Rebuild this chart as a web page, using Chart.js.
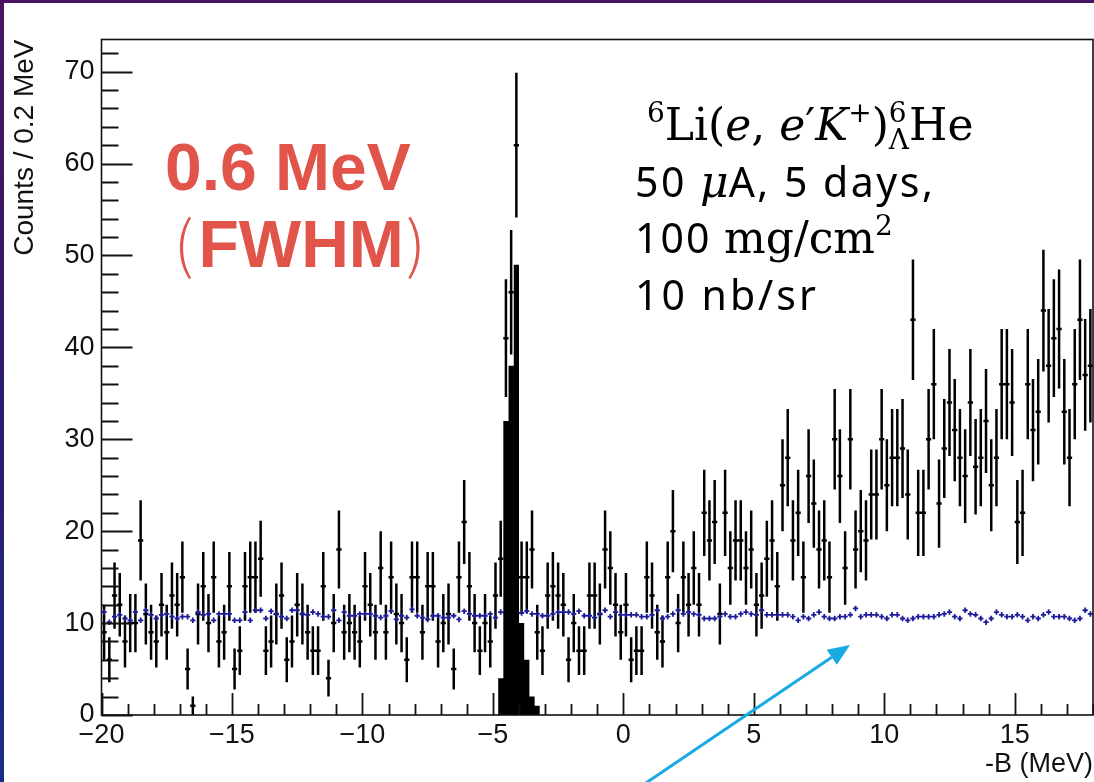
<!DOCTYPE html>
<html>
<head>
<meta charset="utf-8">
<script src="https://cdn.jsdelivr.net/npm/chart.js"></script>
<style>
  html, body { margin: 0; padding: 0; }
  body {
    width: 1094px; height: 782px; overflow: hidden; position: relative;
    background: linear-gradient(180deg, #4a1462 0%, #2c1c6c 55%, #1b2c88 100%);
  }
  #wrap { position: absolute; left: 4px; top: 3px; width: 1090px; height: 779px; background: #fff; }
</style>
</head>
<body>
<div id="wrap"><canvas id="spectrum" width="1090" height="779"></canvas></div>
<script>
// binning of the missing-mass spectrum
const BIN_LO = -20;
const BIN_W = 0.2;

// counts per 0.2 MeV bin, from -20 to 18 MeV
const counts = [
  9, 6, 13, 12, 8, 10, 10, 19, 11, 9, 8, 12, 9, 13, 12, 15, 5, 1, 11, 14,
  10, 15, 8, 9, 14, 5, 7, 14, 15, 15, 17, 7, 8, 11, 13, 6, 8, 12, 11, 9,
  7, 7, 14, 4, 10, 18, 9,
  10, 9, 8, 14, 12, 9, 16, 9, 15, 11, 10, 6, 15, 15, 9, 14, 14, 8, 10, 11,
  5, 15, 21, 14, 10, 7, 10, 8, 13, 17,
  41, 46, 62, 15, 15, 18, 9, 7, 13, 14, 13, 12, 6, 10, 7, 7, 13, 13,
  11, 18, 16, 12, 9, 12, 6, 7, 7, 15, 13, 9, 8, 15, 20, 10, 15, 12, 16, 12,
  22, 19, 21, 11, 22, 16, 19, 19, 16, 18, 12, 13, 17, 19, 14, 25, 28, 19, 22, 15,
  26, 23, 18, 19, 15, 30, 26, 16, 30,
  18, 20, 19, 24, 24, 30, 25, 28, 28, 29, 24, 43, 22, 22, 30, 36, 23, 29, 34, 31,
  28, 26, 34, 27, 28, 32, 25, 28, 36, 36, 34, 21, 22, 36, 31, 33, 44, 38, 41, 42,
  33, 28, 36, 43, 37, 38
];

// accidental background estimate, same binning
const background = [
  11.2, 10.1, 10.7, 10.9, 10.5, 10.3, 11.2, 10.3, 11.4, 10.9, 10.5, 10.9, 11.0, 10.7, 10.5, 10.7,
  10.7, 10.3, 11.2, 10.9, 11.0, 10.3, 11.0, 11.0, 11.0, 10.3, 10.3, 11.2, 10.3, 11.4, 11.4, 10.5,
  11.3, 11.0, 10.7, 10.5, 11.4, 11.4, 11.0, 10.9, 11.2, 11.0, 10.7, 10.7, 11.4, 10.3, 11.2,
  10.8, 10.8, 11.0, 11.0, 11.0, 10.8, 10.6, 10.8, 11.3, 10.4, 10.8, 10.6, 11.5, 10.8, 10.6, 10.4,
  10.8, 10.8, 10.6, 10.6, 10.8, 10.4, 11.3, 11.0, 10.8, 10.8, 10.8, 11.0, 10.6, 11.2, 11.1, 10.9,
  11.0, 11.1, 11.3, 11.0, 11.0, 10.8, 10.8, 11.0, 11.2, 11.2, 11.2, 11.0, 11.3, 10.8, 10.8, 10.6,
  11.0, 11.4, 10.7, 11.2, 10.9, 10.9, 10.9, 10.9, 10.7, 10.7, 10.9, 11.4, 10.5, 10.7, 11.0, 11.4,
  11.0, 11.2, 11.0, 10.9, 10.5, 10.5, 10.5, 10.7, 11.0, 10.7, 10.7, 11.0, 11.2, 11.0, 10.9, 11.4,
  10.9, 10.9, 10.9, 10.9, 10.9, 10.7, 10.3, 10.7, 10.5, 10.9, 11.2, 10.7, 10.5, 10.5, 10.7, 10.7,
  10.9,
  11.6, 10.7, 10.9, 10.9, 10.9, 10.7, 10.5, 10.9, 10.9, 10.5, 10.3, 10.5, 10.7, 10.7, 10.7, 10.7,
  10.9, 11.0, 11.2, 10.7, 10.5, 11.4, 11.0, 10.9, 10.5, 10.1, 10.5, 11.2, 10.9, 10.7, 10.7, 10.9,
  10.7, 10.3, 10.7, 10.5, 10.9, 11.2, 10.7, 10.7, 10.7, 10.5, 10.3, 10.5, 11.4, 11.0
];
const BKG_ERR = 0.3;

// simulated Lambda-hypernucleus ground state peak
const peakEdges = [-4.8, -4.6, -4.4, -4.2, -4.0, -3.8, -3.6, -3.4, -3.2];
const peakCounts = [4, 32, 38, 49, 10, 6, 2, 1];

const xMajor = [-20, -15, -10, -5, 0, 5, 10, 15];
const yMajor = [0, 10, 20, 30, 40, 50, 60, 70];

const centers = counts.map((_, i) => BIN_LO + BIN_W * (i + 0.5));

// error crosses as broken line segments (null breaks the path)
function crosses(values, errOf, halfW) {
  const vert = [], horiz = [];
  values.forEach((v, i) => {
    if (!v) return;
    const x = centers[i], e = errOf(v);
    vert.push({ x, y: v - e }, { x, y: v + e }, { x, y: null });
    horiz.push({ x: x - halfW, y: v }, { x: x + halfW, y: v }, { x: x + halfW, y: null });
  });
  return [vert, horiz];
}

const [dataV, dataH] = crosses(counts, n => Math.sqrt(n), BIN_W / 2);
const [bkgV, bkgH] = crosses(background, () => BKG_ERR, BIN_W / 2);

const peakLine = peakEdges.map((x, i) => ({ x, y: peakCounts[Math.min(i, peakCounts.length - 1)] }));

function segs(data, color, width) {
  return {
    data, borderColor: color, borderWidth: width, pointRadius: 0,
    spanGaps: false, fill: false, tension: 0
  };
}

const HELV = '"Liberation Sans", Arial, Helvetica, sans-serif';
const minus = v => (v < 0 ? '\u2212' + Math.abs(v) : String(v));

// ROOT-like frame with inward major/minor ticks
const rootFrame = {
  id: 'rootFrame',
  afterDraw(chart) {
    const { ctx, chartArea: a, scales: { x, y } } = chart;
    ctx.save();
    ctx.strokeStyle = '#111';
    ctx.lineWidth = 1.6;
    ctx.strokeRect(a.left, a.top, a.right - a.left, a.bottom - a.top);
    ctx.beginPath();
    for (let v = -20; v <= 18; v++) {
      const px = Math.round(x.getPixelForValue(v)) + 0.5;
      const len = xMajor.includes(v) ? 22 : 11;
      ctx.moveTo(px, a.bottom);
      ctx.lineTo(px, a.bottom - len);
    }
    for (let v = 0; v <= 72; v += 2) {
      const py = Math.round(y.getPixelForValue(v)) + 0.5;
      const len = yMajor.includes(v) ? 31 : 17;
      ctx.moveTo(a.left, py);
      ctx.lineTo(a.left + len, py);
    }
    ctx.lineWidth = 1.8;
    ctx.stroke();
    ctx.restore();
  }
};

// write a run of differently styled pieces, return end x
function run(ctx, pieces, x, y) {
  pieces.forEach(p => {
    ctx.font = p.font;
    ctx.letterSpacing = p.ls || '0px';
    if (p.stack) {
      let w = 0;
      p.stack.forEach(s => {
        ctx.fillText(s.t, x, y + s.dy);
        w = Math.max(w, ctx.measureText(s.t).width);
      });
      x += w;
    } else {
      ctx.fillText(p.t, x, y + (p.dy || 0));
      x += ctx.measureText(p.t).width;
    }
  });
  ctx.letterSpacing = '0px';
  return x;
}

const SERIF = '"DejaVu Serif", serif';
const up = `44px ${SERIF}`;
const it = `italic 44px ${SERIF}`;
const sup = `28px ${SERIF}`;
const sans = '41px "Noto Sans", sans-serif';

const annotations = {
  id: 'annotations',
  afterDraw(chart) {
    const ctx = chart.ctx;
    ctx.save();
    ctx.textBaseline = 'alphabetic';
    ctx.textAlign = 'left';

    // energy resolution
    ctx.fillStyle = '#e1544a';
    ctx.font = `bold 66px ${HELV}`;
    ctx.fillText('0.6 MeV', 161, 187);
    run(ctx, [
      { t: '(', font: '300 62px "Noto Sans CJK JP", sans-serif' },
      { t: ' ', font: '18px sans-serif' },
      { t: 'FWHM', font: `bold 66px ${HELV}` },
      { t: ' ', font: '8px sans-serif' },
      { t: ')', font: '300 62px "Noto Sans CJK JP", sans-serif' }
    ], 170, 264);

    // reaction and run conditions
    ctx.fillStyle = '#000';
    run(ctx, [
      { t: '6', font: sup, dy: -18 },
      { t: 'Li(', font: up },
      { t: 'e', font: it },
      { t: ', ', font: up },
      { t: 'e', font: it },
      { t: '\u2032', font: up },
      { t: 'K', font: it },
      { t: '+', font: sup, dy: -18 },
      { t: ')', font: up },
      { font: sup, stack: [{ t: '6', dy: -18 }, { t: '\u039B', dy: 9 }] },
      { t: 'He', font: up }
    ], 643, 137);
    run(ctx, [
      { t: '50 ', font: sans, ls: '2.5px' },
      { t: '\u03BC', font: it },
      { t: 'A, 5 days,', font: sans, ls: '2.5px' }
    ], 631, 194);
    run(ctx, [
      { t: '100 ', font: sans, ls: '2px' },
      { t: 'mg/cm', font: up },
      { t: '2', font: sup, dy: -18 }
    ], 631, 250);
    run(ctx, [{ t: '10 nb/sr', font: sans, ls: '3px' }], 631, 307);

    // arrow pointing at the background level
    const x0 = 636, y0 = 784, x1 = 846, y1 = 642;
    const ang = Math.atan2(y1 - y0, x1 - x0);
    const hl = 22, hw = 9;
    const bx = x1 - hl * Math.cos(ang), by = y1 - hl * Math.sin(ang);
    ctx.strokeStyle = '#19a9e3';
    ctx.fillStyle = '#19a9e3';
    ctx.lineWidth = 3;
    ctx.beginPath();
    ctx.moveTo(x0, y0);
    ctx.lineTo(bx, by);
    ctx.stroke();
    ctx.beginPath();
    ctx.moveTo(x1, y1);
    ctx.lineTo(bx + hw * Math.sin(ang), by - hw * Math.cos(ang));
    ctx.lineTo(bx - hw * Math.sin(ang), by + hw * Math.cos(ang));
    ctx.closePath();
    ctx.fill();
    ctx.restore();
  }
};

Chart.defaults.color = '#111';
Chart.defaults.font.family = HELV;

new Chart(document.getElementById('spectrum'), {
  type: 'line',
  data: {
    datasets: [
      {
        data: peakLine, stepped: true, fill: 'origin',
        backgroundColor: '#000', borderColor: '#000', borderWidth: 0, pointRadius: 0
      },
      segs(bkgV, '#1c1c9a', 1.8),
      segs(bkgH, '#1c1c9a', 1.8),
      segs(dataV, '#000', 2.5),
      segs(dataH, '#000', 2.5)
    ]
  },
  options: {
    responsive: false,
    animation: false,
    layout: { padding: { top: 36.5, right: 1, bottom: 0, left: 0 } },
    plugins: { legend: { display: false }, tooltip: { enabled: false } },
    scales: {
      x: {
        type: 'linear', min: -20, max: 18,
        afterFit: s => { s.height = 67; },
        afterBuildTicks: s => { s.ticks = xMajor.map(value => ({ value })); },
        grid: { display: false, drawTicks: false },
        border: { display: false },
        ticks: { padding: 4, maxRotation: 0, autoSkip: false, font: { size: 27 }, callback: minus },
        title: {
          display: true, text: '-B (MeV)', align: 'end',
          font: { size: 27 }, padding: { top: 0, bottom: 1 }
        }
      },
      y: {
        type: 'linear', min: 0, max: 73.5,
        afterFit: s => { s.width = 97.5; },
        afterBuildTicks: s => { s.ticks = yMajor.map(value => ({ value })); },
        grid: { display: false, drawTicks: false },
        border: { display: false },
        ticks: { padding: 7, autoSkip: false, font: { size: 27 }, callback: minus },
        title: {
          display: true, text: 'Counts / 0.2 MeV', align: 'end',
          font: { size: 28 }, padding: { top: 4, bottom: 0 }
        }
      }
    }
  },
  plugins: [rootFrame, annotations]
});
</script>
</body>
</html>
